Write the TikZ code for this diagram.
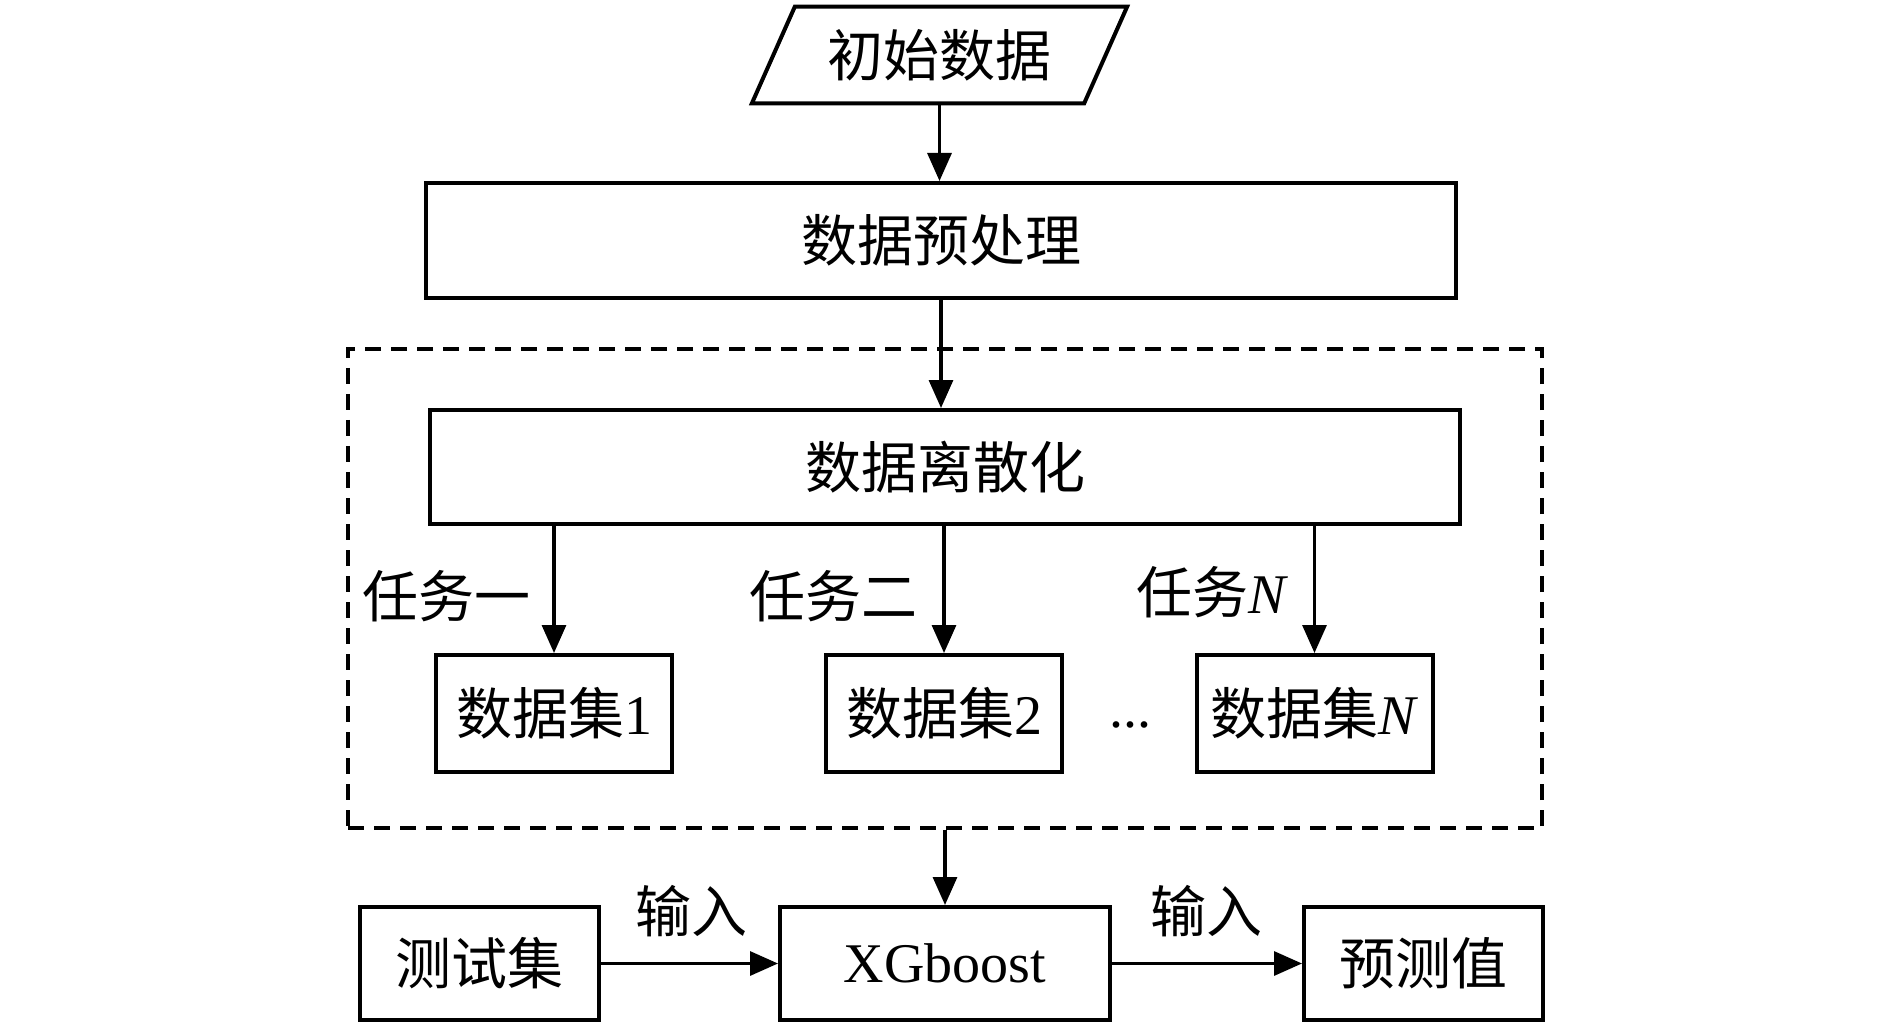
\documentclass[tikz,border=0pt]{standalone}
\usepackage{fontspec}
\setmainfont{Liberation Serif}
\newfontfamily\cjk{Noto Sans CJK SC}
\usetikzlibrary{arrows.meta,calc}
\begin{document}
\begin{tikzpicture}[x=0.5pt,y=-0.5pt,
  box/.style={draw,line width=2pt,inner sep=0pt,font=\fontsize{28}{32}\selectfont},
  arr/.style={line width=1.6pt,-{Triangle[length=14pt,width=12pt]}},
  lbl/.style={inner sep=0pt,font=\fontsize{28}{32}\selectfont},
  dashbox/.style={draw,line width=1.6pt,dash pattern=on 8pt off 5pt,inner sep=0pt}]
\useasboundingbox (0,0) rectangle (1890,1027);

% start (parallelogram)
\node[lbl,minimum width=165.75pt,minimum height=48pt] (init) at (939.5,55) {\cjk 初始数据};
\draw[line width=2pt,line join=miter]
  ($(init.south west)+(-21.5,0)$) -- ($(init.north west)+(21.5,0)$) --
  ($(init.north east)+(21.5,0)$) -- ($(init.south east)+(-21.5,0)$) -- cycle;

\node[box,minimum width=515pt,minimum height=57.5pt] (prep) at (941,240.5) {\cjk 数据预处理};

\node[dashbox,minimum width=597pt,minimum height=239.5pt] (grp) at (945,588.5) {};

\node[box,minimum width=515pt,minimum height=57pt] (disc) at (945,467) {\cjk 数据离散化};

\node[box,minimum width=118pt,minimum height=58.5pt] (ds1) at (554,713.5) {{\cjk 数据集}1};
\node[box,minimum width=118pt,minimum height=58.5pt] (ds2) at (944,713.5) {{\cjk 数据集}2};
\node[box,minimum width=118pt,minimum height=58.5pt] (dsn) at (1314.5,713.5) {{\cjk 数据集}\textit{N}};
\node[lbl] (dots) at (1130,725) {...};

\node[lbl] (t1) at (446,596) {\cjk 任务一};
\node[lbl] (t2) at (833,596) {\cjk 任务二};
\node[lbl] (tn) at (1212,592) {{\cjk 任务}\textit{N}};

\node[box,minimum width=119.5pt,minimum height=56.5pt] (test) at (479.5,963.5) {\cjk 测试集};
\node[box,minimum width=165pt,minimum height=56.5pt] (xgb) at (945,963.5) {XGboost};
\node[box,minimum width=119.5pt,minimum height=56.5pt] (pred) at (1423.5,963.5) {\cjk 预测值};

\node[lbl] (in1) at (691,911) {\cjk 输入};
\node[lbl] (in2) at (1206,911) {\cjk 输入};

% connectors
\draw[arr] (init.south) -- (init.south |- prep.north);
\draw[arr] (prep.south) -- (prep.south |- disc.north);
\draw[arr] (ds1.north |- disc.south) -- (ds1.north);
\draw[arr] (ds2.north |- disc.south) -- (ds2.north);
\draw[arr] (dsn.north |- disc.south) -- (dsn.north);
\draw[arr] (grp.south) -- (xgb.north);
\draw[arr] (test.east) -- (xgb.west);
\draw[arr] (xgb.east) -- (pred.west);
\end{tikzpicture}
\end{document}
